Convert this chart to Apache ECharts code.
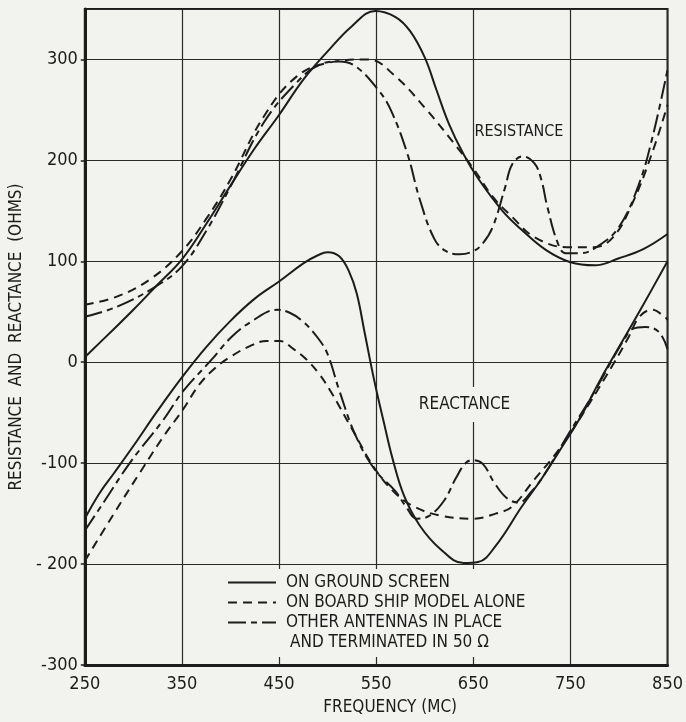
<!DOCTYPE html>
<html>
<head>
<meta charset="utf-8">
<script src="https://cdn.jsdelivr.net/npm/echarts/dist/echarts.min.js"></script>
<style>
html,body{margin:0;padding:0;background:#f2f2ef;}
#chart{width:686px;height:722px;}
</style>
</head>
<body>
<div id="chart"></div>
<script>
// frequency (MC) vs ohms
const resGround=[[250,5],[280,33],[300,52],[323,75],[350,102],[375,137],[400,175],[425,212],[450,245],[475,280],[500,308],[525,333],[549,348],[570,342],[585,328],[600,302],[612,270],[625,236],[640,206],[655,182],[680,150],[700,131],[725,111],[750,99],[775,96],[800,103],[825,112],[850,127]];
const resShip=[[250,57],[283,65],[317,82],[350,110],[375,142],[400,181],[434,243],[468,283],[502,297],[542,300],[569,284],[602,250],[630,217],[650,192],[670,164],[690,144],[713,124],[746,114],[774,114],[794,124],[814,158],[834,207],[850,255]];
const resOther=[[250,45],[283,55],[323,75],[350,95],[375,130],[400,174],[434,237],[468,277],[492,295],[512,298],[529,293],[552,270],[565,250],[582,207],[595,161],[610,122],[622,110],[636,107],[650,110],[660,118],[670,134],[683,174],[690,196],[701,204],[713,197],[720,181],[726,155],[737,118],[745,108],[760,108],[780,116],[800,134],[820,175],[835,225],[850,290]];

const reaGround=[[250,-155],[265,-130],[280,-110],[300,-83],[325,-48],[350,-15],[375,15],[400,41],[425,63],[450,80],[475,98],[490,106],[500,109],[512,105],[522,90],[530,68],[538,30],[548,-18],[558,-60],[567,-96],[579,-133],[595,-162],[616,-185],[640,-199],[655,-198],[673,-182],[700,-143],[720,-116],[740,-86],[760,-55],[781,-17],[800,15],[825,57],[850,100]];
const reaShip=[[250,-197],[280,-150],[307,-109],[330,-75],[351,-47],[368,-22],[384,-6],[401,6],[420,16],[437,21],[451,21],[465,13],[478,3],[490,-10],[502,-27],[525,-66],[549,-106],[570,-130],[589,-143],[616,-152],[650,-155],[673,-150],[690,-143],[713,-116],[733,-93],[750,-70],[770,-40],[794,-2],[810,25],[821,45],[834,52],[847,45],[850,42]];
const reaOther=[[250,-167],[270,-138],[297,-99],[331,-57],[351,-29],[381,3],[401,25],[421,40],[448,52],[461,49],[475,40],[490,24],[500,8],[512,-28],[529,-73],[549,-107],[570,-128],[580,-142],[592,-155],[605,-152],[620,-137],[632,-115],[642,-100],[650,-97],[660,-101],[672,-120],[685,-135],[697,-139],[710,-128],[722,-113],[750,-68],[770,-37],[794,4],[805,22],[814,33],[827,35],[841,30],[850,13]];

const yLabels={'300':'300','200':'200','100':'100','0':'0','-100':'-100','-200':'- 200','-300':'-300'};

const names=['ON GROUND SCREEN','ON BOARD SHIP MODEL ALONE','OTHER ANTENNAS IN PLACE'];
const nameCont='AND TERMINATED IN 50 Ω';
const ink='#1c1c1c';
const paper='#f2f2ef';
const font="'Liberation Sans Narrow','DejaVu Sans Condensed',sans-serif";
const dashes=['solid',[9,6],[18,5,6,5]];

const chart=echarts.init(document.getElementById('chart'));

function mk(name,data,i){
    return {
        type:'line',
        name:name,
        data:data,
        smooth:0.4,
        symbol:'none',
        lineStyle:{color:ink,width:2,type:dashes[i]},
        itemStyle:{color:ink},
        z:3
    };
}

chart.setOption({
    backgroundColor:paper,
    animation:false,
    grid:{left:80,right:10,top:9,bottom:57,show:true,borderColor:ink,borderWidth:2,backgroundColor:'transparent'},
    xAxis:{
        type:'value',min:250,max:850,interval:100,
        name:'FREQUENCY (MC)',nameLocation:'middle',nameGap:34,
        nameTextStyle:{color:ink,fontSize:17,fontFamily:font,padding:[0,0,0,28]},
        axisLine:{onZero:false,lineStyle:{color:ink,width:3}},
        axisTick:{show:false},
        axisLabel:{color:ink,fontSize:18,fontFamily:font,margin:10},
        splitLine:{lineStyle:{color:'#2a2a2a',width:1.2}}
    },
    yAxis:{
        type:'value',min:-300,max:350,interval:100,
        name:'RESISTANCE  AND  REACTANCE  (OHMS)',nameLocation:'middle',nameGap:52,nameRotate:90,
        nameTextStyle:{color:ink,fontSize:17,fontFamily:font},
        axisLine:{show:true,onZero:false,lineStyle:{color:ink,width:3}},
        axisTick:{show:true,length:4,lineStyle:{color:ink,width:1.5}},
        axisLabel:{color:ink,fontSize:18,fontFamily:font,margin:7,showMaxLabel:false,
            formatter:v=>yLabels[String(v)]||''},
        splitLine:{lineStyle:{color:'#2a2a2a',width:1.2}}
    },
    // legend box is painted over the grid lines below -200, as in the original
    legend:{
        data:[names[0],names[1],names[2],
            {name:nameCont,itemStyle:{opacity:0},lineStyle:{opacity:0},textStyle:{padding:[0,0,0,9]}}],
        orient:'vertical',left:212,top:569,z:20,
        itemWidth:48,itemHeight:14,itemGap:3,padding:[5,36,6,15],selectedMode:false,
        backgroundColor:paper,
        itemStyle:{opacity:0},
        textStyle:{color:ink,fontSize:17,fontFamily:font,padding:[0,0,0,5]}
    },
    series:[
        mk(names[0],resGround,0),
        mk(names[1],resShip,1),
        mk(names[2],resOther,2),
        mk(names[0],reaGround,0),
        mk(names[1],reaShip,1),
        mk(names[2],reaOther,2),
        {type:'line',name:nameCont,data:[],symbol:'none',lineStyle:{opacity:0}}
    ]
});

const pRes=chart.convertToPixel({gridIndex:0},[697,228]);
const pRea=chart.convertToPixel({gridIndex:0},[641,-42]);

chart.setOption({
    graphic:[
        {type:'text',z:30,x:pRes[0],y:pRes[1],
         style:{text:'RESISTANCE',fill:ink,fontSize:16,fontFamily:font,align:'center',verticalAlign:'middle'}},
        {type:'text',z:30,x:pRea[0],y:pRea[1],
         style:{text:'REACTANCE',fill:ink,fontSize:17,fontFamily:font,align:'center',verticalAlign:'middle',
                backgroundColor:paper,padding:[9,2]}}
    ]
});
</script>
</body>
</html>
